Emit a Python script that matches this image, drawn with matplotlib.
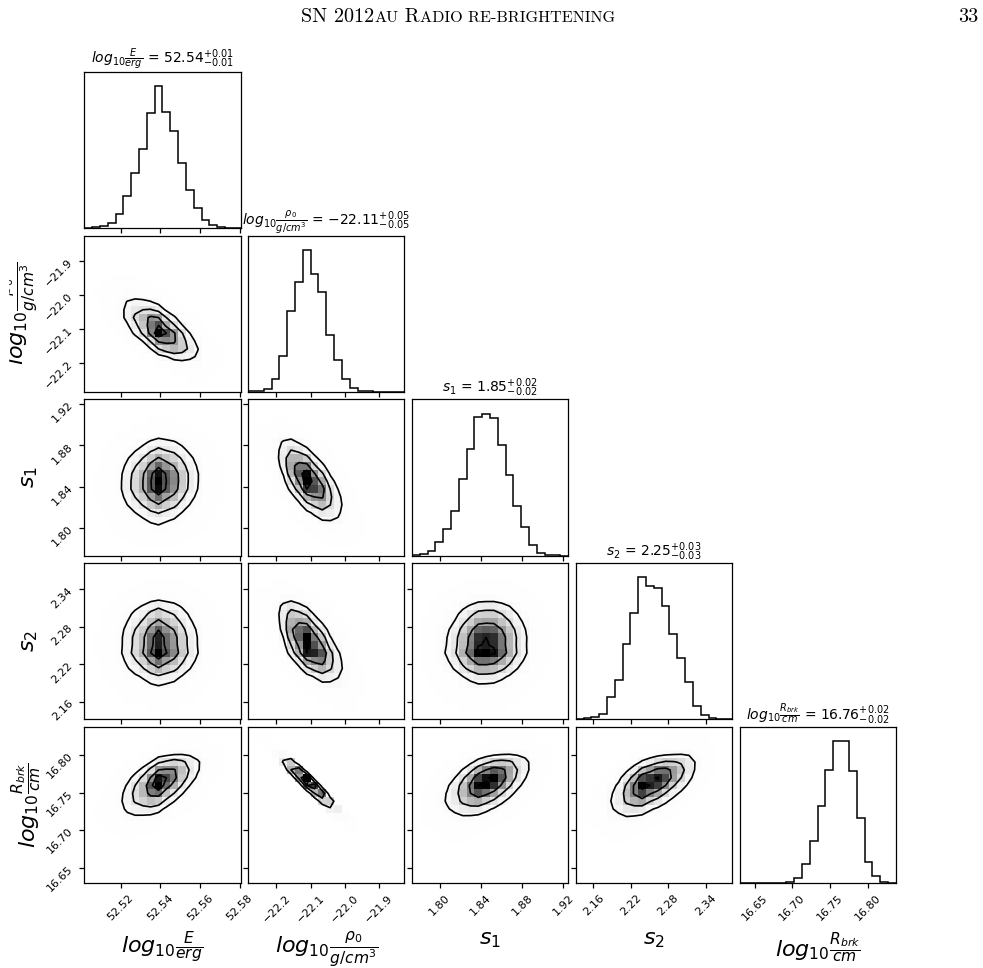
import math
import numpy as np
import matplotlib
matplotlib.use("Agg")
import matplotlib.pyplot as plt
from matplotlib.colors import LinearSegmentedColormap
from matplotlib.patches import Rectangle

# ---------------- data ----------------
param_labels = [r"$log_{10}\frac{E}{erg}$",
                r"$log_{10}\frac{\rho_0}{g/cm^3}$",
                r"$s_1$",
                r"$s_2$",
                r"$log_{10}\frac{R_{brk}}{cm}$"]
medians = ["52.54", "-22.11", "1.85", "2.25", "16.76"]
err_plus = ["0.01", "0.05", "0.02", "0.03", "0.02"]
err_minus = ["0.01", "0.05", "0.02", "0.03", "0.02"]

ranges = [(52.5016, 52.5804), (-22.283, -21.825), (1.7730, 1.9248),
          (2.1317, 2.3823), (16.630, 16.837)]

# 1D marginal histograms (20 bins across each range)
hist_E = [1, 2, 6, 16, 42, 96, 163, 235, 343, 423, 346, 288, 193, 112, 60, 24, 8, 3, 1, 0]
hist_rho = [1, 3, 7, 37, 108, 243, 328, 425, 353, 298, 170, 95, 38, 12, 3, 1, 0, 0, 0, 0]
hist_s1 = [1, 4, 14, 40, 78, 133, 228, 319, 415, 424, 411, 330, 242, 147, 85, 31, 9, 3, 1, 0]
hist_s2 = [0, 3, 8, 18, 72, 127, 240, 339, 453, 425, 420, 363, 272, 197, 119, 44, 13, 4, 1, 0]
hist_R = [0, 0, 0, 0.5, 1, 2, 4, 15, 57, 125, 231, 336, 423, 423, 333, 193, 63, 20, 4, 1]
hists = [hist_E, hist_rho, hist_s1, hist_s2, hist_R]

pair_corr = {(1, 0): -0.65, (2, 0): 0.05, (2, 1): -0.65, (3, 0): 0.0, (3, 1): -0.6,
             (3, 2): 0.05, (4, 0): 0.55, (4, 1): -0.96, (4, 2): 0.5, (4, 3): 0.55}

ticks = [[52.52, 52.54, 52.56, 52.58], [-22.2, -22.1, -22.0, -21.9],
         [1.80, 1.84, 1.88, 1.92], [2.16, 2.22, 2.28, 2.34], [16.65, 16.70, 16.75, 16.80]]
tick_labels = [["52.52", "52.54", "52.56", "52.58"],
               ["\u221222.2", "\u221222.1", "\u221222.0", "\u221221.9"],
               ["1.80", "1.84", "1.88", "1.92"],
               ["2.16", "2.22", "2.28", "2.34"],
               ["16.65", "16.70", "16.75", "16.80"]]

header_runs = [("SN 2012", "big"), ("AU", "small"), (" R", "big"), ("ADIO RE-BRIGHTENING", "small")]
page_number = "33"

levels = 1.0 - np.exp(-0.5 * np.array([0.5, 1.0, 1.5, 2.0]) ** 2)

# ---------------- helpers ----------------
_zt = np.linspace(-7, 7, 4001)
_Phi = np.array([0.5 * (1 + math.erf(v / math.sqrt(2))) for v in _zt])


def zscores(p):
    p = np.asarray(p, float)
    F = (np.cumsum(p) - p / 2) / p.sum()
    F = np.clip(F, 1e-7, 1 - 1e-7)
    return np.interp(F, _Phi, _zt)


def hist2d(px, py, r):
    px = np.asarray(px, float); py = np.asarray(py, float)
    zx = zscores(px)[:, None]; zy = zscores(py)[None, :]
    c = np.exp(-(r * r * (zx ** 2 + zy ** 2) - 2 * r * zx * zy) / (2 * (1 - r * r))) / math.sqrt(1 - r * r)
    H = px[:, None] * py[None, :] * c
    return H / H.sum()


def contour_levels(H):
    Hf = np.sort(H.flatten())[::-1]
    sm = np.cumsum(Hf); sm /= sm[-1]
    V = []
    for v0 in levels:
        sel = Hf[sm <= v0]
        V.append(sel[-1] if len(sel) else Hf[0])
    return np.unique(np.array(V))


density_cmap = LinearSegmentedColormap.from_list("density", [(0, 0, 0, 1), (1, 1, 1, 0)])

plt.rcParams['axes.linewidth'] = 0.9
plt.rcParams['mathtext.fontset'] = 'dejavusans'

W, Hpx = 983, 968
fig = plt.figure(figsize=(W / 100, Hpx / 100), dpi=100)

left0, top0, step, size_w, size_h = 84.3, 71.7, 163.8, 156.3, 156.3
K = 5
edges = [np.linspace(lo, hi, 21) for lo, hi in ranges]
centers = [0.5 * (e[1:] + e[:-1]) for e in edges]
ylabel_shift_px = [0, 4, 3, 3, 7]

for i in range(K):
    for j in range(i + 1):
        x0 = left0 + j * step
        y_top = top0 + i * step
        ax = fig.add_axes([x0 / W, 1 - (y_top + size_h) / Hpx, size_w / W, size_h / Hpx])
        if i == j:
            h = np.asarray(hists[i], float)
            ax.stairs(h, edges[i], color='k', lw=1.1)
            ax.set_xlim(*ranges[i])
            ax.set_ylim(0, 1.1 * h.max())
            ax.set_yticks([])
            title = param_labels[i] + " = " + r"$%s_{-%s}^{+%s}$" % (medians[i], err_minus[i], err_plus[i])
            ax.set_title(title, fontsize=10, pad=5)
        else:
            H = hist2d(hists[j], hists[i], pair_corr[(i, j)])
            ax.pcolormesh(edges[j], edges[i], (H.max() - H).T, cmap=density_cmap, shading='flat')
            V = contour_levels(H)
            ax.contour(centers[j], centers[i], H.T, levels=V, colors='k', linewidths=1.2)
            ax.set_xlim(*ranges[j])
            ax.set_ylim(*ranges[i])
            ax.set_yticks(ticks[i])
            if j == 0:
                ax.set_yticklabels(tick_labels[i], rotation=45, fontsize=8)
                ax.set_ylabel(param_labels[i], fontsize=16)
                ax.yaxis.set_label_coords(-0.3 + ylabel_shift_px[i] / size_w, 0.5)
            else:
                ax.set_yticklabels([])
        ax.set_xticks(ticks[j])
        if i == K - 1:
            ax.set_xticklabels(tick_labels[j], rotation=45, fontsize=8)
            ax.set_xlabel(param_labels[j], fontsize=16)
            ax.xaxis.set_label_coords(0.5, -0.3)
        else:
            ax.set_xticklabels([])
        ax.tick_params(direction='out', length=3.5, width=0.9)

# ---------------- header ----------------
renderer = fig.canvas.get_renderer()
sizes = {"big": 14.5, "small": 11.6}
objs = []
total = 0
for s, kind in header_runs:
    t = fig.text(0, 0, s, fontsize=sizes[kind], family='cmr10', va='baseline', ha='left')
    w = t.get_window_extent(renderer).width
    objs.append((t, w)); total += w
xc = 458.0
x = xc - total / 2
base_y = 1 - 22.0 / Hpx
for t, w in objs:
    t.set_position((x / W, base_y))
    x += w
fig.text(978 / W, base_y, page_number, fontsize=sizes["big"], family='cmr10', va='baseline', ha='right')

# paper margin clipping at the left edge
fig.add_artist(Rectangle((0, 0), 8 / W, 1, transform=fig.transFigure, color='white', zorder=100))

fig.savefig("out.png", dpi=100)
